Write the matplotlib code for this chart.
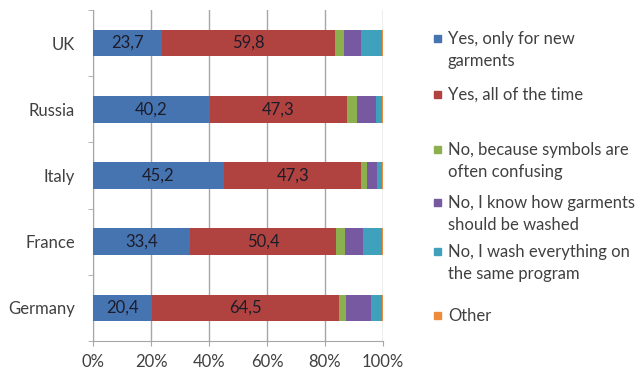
import numpy as np
import matplotlib
matplotlib.use('Agg')
import matplotlib.pyplot as plt
from matplotlib.patches import Rectangle

# %% data (share of respondents, %)

countries = ['Germany', 'France', 'Italy', 'Russia', 'UK']
answers = ['Yes, only for new\ngarments',
           'Yes, all of the time',
           'No, because symbols are\noften confusing',
           'No, I know how garments\nshould be washed',
           'No, I wash everything on\nthe same program',
           'Other']

yes_new = [20.4, 33.4, 45.2, 40.2, 23.7]
yes_all = [64.5, 50.4, 47.3, 47.3, 59.8]
no_confusing = [2.5, 3.0, 1.9, 3.4, 2.9]
no_know = [8.4, 6.3, 3.6, 6.7, 5.9]
no_same = [3.9, 6.5, 1.7, 2.2, 7.4]
other = [0.3, 0.4, 0.3, 0.2, 0.3]

series = [yes_new, yes_all, no_confusing, no_know, no_same, other]
labelled = [True, True, False, False, False, False]

# %% style

colors = ['#4674B0', '#B0433F', '#8DB04E', '#7659A0', '#3FA1BB', '#EE8B3A']
text_col = '#404040'
grid_col = '#A6A6A6'
plt.rcParams['font.family'] = ['Lato', 'DejaVu Sans']
fs = 12

# %% figure

fig = plt.figure(figsize=(6.41, 3.74), dpi=100)
ax = fig.add_axes([93/641, 33/374, 290/641, 331/374])

y = np.arange(len(countries))
left = np.zeros(len(countries))
for vals, col, lab in zip(series, colors, labelled):
    vals = np.array(vals)
    bars = ax.barh(y, vals, left=left, height=0.4, color=col, zorder=3)
    if lab:
        ax.bar_label(bars, labels=[f'{v:.1f}'.replace('.', ',') for v in vals],
                     label_type='center', fontsize=fs, color='#1C1C2A')
    left += vals

ax.set_xlim(0, 100)
ax.set_ylim(-0.5, len(countries) - 0.5)
ax.set_xticks(np.arange(0, 101, 20))
ax.set_xticklabels([f'{t}%' for t in range(0, 101, 20)])
ax.set_yticks(y)
ax.set_yticklabels(countries)
ax.set_yticks(np.arange(-0.5, len(countries), 1), minor=True)
ax.tick_params(axis='y', which='major', length=0, pad=13, labelsize=fs, labelcolor=text_col)
ax.tick_params(axis='y', which='minor', length=3.6, color=grid_col)
ax.tick_params(axis='x', length=3.6, color=grid_col, labelsize=fs, labelcolor=text_col, pad=6)
ax.grid(axis='x', color=grid_col, linewidth=1, zorder=0)
for s in ['top', 'right']:
    ax.spines[s].set_visible(False)
for s in ['left', 'bottom']:
    ax.spines[s].set_color(grid_col)

# %% legend, drawn by hand for the uneven Excel spacing

leg_y = [38, 94, 149, 202, 251, 315]
for txt, col, yy in zip(answers, colors, leg_y):
    fig.patches.append(Rectangle((434/641, 1 - (yy + 4)/374), 7/641, 7/374,
                                 transform=fig.transFigure, color=col))
    fig.text(448/641, 1 - (yy - 7)/374, txt, fontsize=fs, color=text_col,
             va='top', ha='left', linespacing=1.45)

fig.savefig('out.png', dpi=100)
